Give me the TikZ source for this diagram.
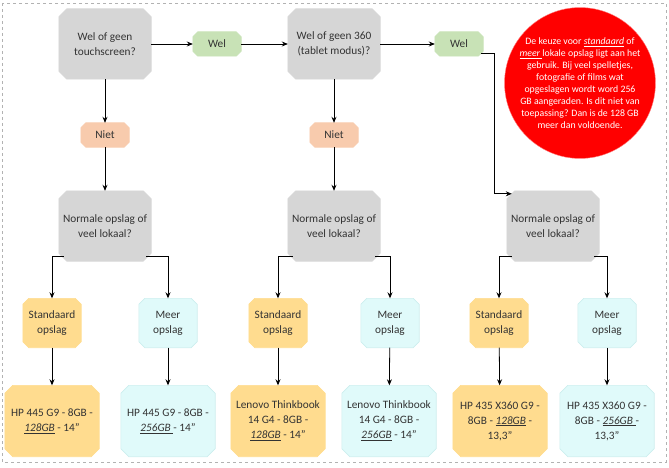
\documentclass[tikz,border=0pt]{standalone}
\usepackage{fontspec}
\setmainfont{Carlito}
\usetikzlibrary{arrows.meta,backgrounds}
\definecolor{grijs}{HTML}{D6D6D6}
\definecolor{groen}{HTML}{C8E2B6}
\definecolor{oranje}{HTML}{F8CBAD}
\definecolor{goud}{HTML}{FFDC8F}
\definecolor{cyaan}{HTML}{E0FAFA}
\definecolor{cyaanrand}{HTML}{CDEEEE}
\definecolor{rood}{HTML}{FF0000}
\tikzset{
  blok/.style={rectangle, align=center, inner sep=0pt,
    font=\fontsize{11.3pt}{15pt}\selectfont, text=black!80},
  vraag/.style={blok, minimum width=92pt, minimum height=70pt},
  keuze/.style={blok, minimum width=48pt, minimum height=24pt},
  opslag/.style={blok, minimum width=58pt, minimum height=49pt},
  laptop/.style={blok, minimum width=94pt, minimum height=71pt},
  pijl/.style={draw, line width=0.8pt, -{Stealth[length=6pt,width=5pt]}},
}
\begin{document}
\begin{tikzpicture}[x=1pt,y=-1pt]
\useasboundingbox (0,0) rectangle (669,468);
\draw[gray!60, dashed, line width=0.5pt] (2,3) rectangle (666,462);
% vragen
\path
(105,44) node[vraag](q1){Wel of geen\\touchscreen?}
(334,44) node[vraag](q2){Wel of geen 360\\(tablet modus)?}
(105,226) node[vraag](q3){Normale opslag of\\veel lokaal?}
(334,226) node[vraag](q4){Normale opslag of\\veel lokaal?}
(553,226) node[vraag](q5){Normale opslag of\\veel lokaal?};
% wel / niet
\path
(217,44) node[keuze](wel1){Wel}
(459,44) node[keuze](wel2){Wel}
(105,135) node[keuze](niet1){Niet}
(334,135) node[keuze](niet2){Niet};
% opslag
\path
(52,323) node[opslag](s1){Standaard\\opslag}
(168,323) node[opslag](m1){Meer\\opslag}
(278,323) node[opslag](s2){Standaard\\opslag}
(390,323) node[opslag](m2){Meer\\opslag}
(499,323) node[opslag](s3){Standaard\\opslag}
(607,323) node[opslag](m3){Meer\\opslag};
% laptops
\path
(52,421) node[laptop](hp1){HP 445 G9 - 8GB -\\\underline{\textit{128GB}} - 14"}
(168,421) node[laptop](hp2){HP 445 G9 - 8GB -\\\underline{\textit{256GB} }- 14"}
(278,421) node[laptop](len1){Lenovo Thinkbook\\14 G4 - 8GB -\\\underline{\textit{128GB}} - 14"}
(389,421) node[laptop](len2){Lenovo Thinkbook\\14 G4 - 8GB -\\\underline{\textit{256GB}} - 14"}
(500,421) node[laptop](hp3){HP 435 X360 G9 -\\8GB - \underline{\textit{128GB}} -\\13,3"}
(607,421) node[laptop](hp4){HP 435 X360 G9 -\\8GB - \underline{\textit{256GB} }-\\13,3"};
% rode cirkel
\node[circle, fill=rood, draw=red!50, minimum size=146pt, inner sep=0pt, align=center,
  text=white, font=\fontsize{9.8pt}{12pt}\selectfont] (info) at (580,83)
  {De keuze voor \underline{\textit{standaard}} of\\\underline{\textit{meer} }lokale opslag ligt aan het\\gebruik. Bij veel spelletjes,\\fotografie of films wat\\opgeslagen wordt word 256\\GB aangeraden. Is dit niet van\\toepassing? Dan is de 128 GB\\meer dan voldoende.};
% afgeschuinde vlakken achter de tekst
\begin{scope}[on background layer]
\foreach \n/\kleur/\rand/\c in {q1/grijs/grijs/8,q2/grijs/grijs/8,q3/grijs/grijs/8,
    q4/grijs/grijs/8,q5/grijs/grijs/8,wel1/groen/groen/5,wel2/groen/groen/5,
    niet1/oranje/oranje/5,niet2/oranje/oranje/5,
    s1/goud/goud/6,s2/goud/goud/6,s3/goud/goud/6,
    m1/cyaan/cyaanrand/6,m2/cyaan/cyaanrand/6,m3/cyaan/cyaanrand/6,
    hp1/goud/goud/8,len1/goud/goud/8,hp3/goud/goud/8,
    hp2/cyaan/cyaanrand/8,len2/cyaan/cyaanrand/8,hp4/cyaan/cyaanrand/8}
  \filldraw[fill=\kleur, draw=\rand, line width=0.6pt]
    ([xshift=\c pt]\n.north west) -- ([xshift=-\c pt]\n.north east)
    -- ([yshift=-\c pt]\n.north east) -- ([yshift=\c pt]\n.south east)
    -- ([xshift=-\c pt]\n.south east) -- ([xshift=\c pt]\n.south west)
    -- ([yshift=\c pt]\n.south west) -- ([yshift=-\c pt]\n.north west) -- cycle;
\end{scope}
\coordinate (knik) at (494,53);
\path[pijl] (q1)--(wel1);
\path[pijl] (wel1)--(q2);
\path[pijl] (q2)--(wel2);
\path[pijl] (q1)--(niet1);
\path[pijl] (niet1)--(q3);
\path[pijl] (q2)--(niet2);
\path[pijl] (niet2)--(q4);
\path[pijl] ([xshift=-2pt]wel2.east |- knik)--(knik) |- ([shift={(5pt,-3pt)}]q5.north west);
\path[pijl] ([shift={(5pt,5pt)}]q3.south west) -| (s1.north);
\path[pijl] ([shift={(-5pt,5pt)}]q3.south east) -| (m1.north);
\path[pijl] ([shift={(5pt,5pt)}]q4.south west) -| (s2.north);
\path[pijl] ([shift={(-5pt,5pt)}]q4.south east) -| (m2.north);
\path[pijl] ([shift={(5pt,5pt)}]q5.south west) -| (s3.north);
\path[pijl] ([shift={(-5pt,5pt)}]q5.south east) -| (m3.north);
\path[pijl] (s1)--(hp1);
\path[pijl] (m1)--(hp2);
\path[pijl] (s2)--(len1);
\path[pijl] (m2)--(len2);
\path[pijl] (s3)--(hp3);
\path[pijl] (m3)--(hp4);
\end{tikzpicture}
\end{document}
